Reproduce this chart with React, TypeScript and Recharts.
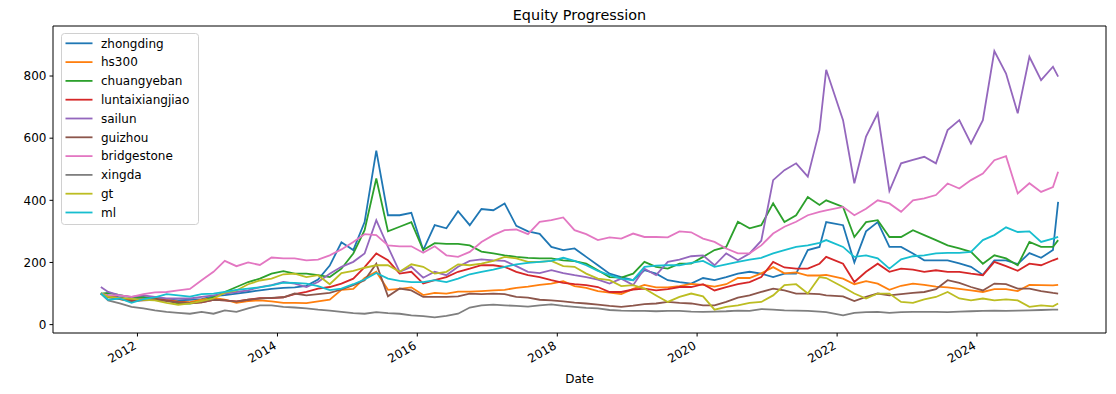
import { LineChart, Line, XAxis, YAxis, Legend, ReferenceLine } from "recharts";

// sample dates (roughly every two months, last point is the final trading day shown)
const dates = [
    "2011-06-24", "2011-08", "2011-10", "2011-12",
    "2012-02", "2012-04", "2012-06", "2012-08", "2012-10", "2012-12",
    "2013-02", "2013-04", "2013-06", "2013-08", "2013-10", "2013-12",
    "2014-02", "2014-04", "2014-06", "2014-08", "2014-10", "2014-12",
    "2015-02", "2015-04", "2015-06", "2015-08", "2015-10", "2015-12",
    "2016-02", "2016-04", "2016-06", "2016-08", "2016-10", "2016-12",
    "2017-02", "2017-04", "2017-06", "2017-08", "2017-10", "2017-12",
    "2018-02", "2018-04", "2018-06", "2018-08", "2018-10", "2018-12",
    "2019-02", "2019-04", "2019-06", "2019-08", "2019-10", "2019-12",
    "2020-02", "2020-04", "2020-06", "2020-08", "2020-10", "2020-12",
    "2021-02", "2021-04", "2021-06", "2021-08", "2021-10", "2021-11-05",
    "2022-02", "2022-04", "2022-06", "2022-08", "2022-10", "2022-12",
    "2023-02", "2023-04", "2023-06", "2023-08", "2023-10", "2023-12",
    "2024-02", "2024-04", "2024-06", "2024-08", "2024-10", "2024-12",
    "2025-02", "2025-02-28",
];

const zhongding = [
    100, 95, 88, 80,
    85, 88, 82, 78, 80, 82,
    92, 95, 100, 105, 110, 115,
    118, 120, 125, 145, 190, 265,
    240, 330, 560, 352, 352, 360,
    240, 320, 310, 365, 320, 372,
    368, 390, 318, 300, 292, 250,
    240, 245, 218, 191, 164, 153,
    143, 175, 164, 143, 137, 132,
    150, 143, 153, 164, 170, 164,
    153, 164, 164, 240, 250, 330,
    320, 200, 300, 330, 250, 250,
    229, 207, 207, 207, 197, 186,
    160, 207, 207, 195, 230, 215,
    240, 395,
];

const hs300 = [
    100, 88, 82, 76,
    83, 83, 80, 74, 72, 80,
    86, 80, 70, 76, 78, 75,
    70, 70, 69, 75, 80, 112,
    115, 150, 170, 112, 115, 120,
    95, 102, 100, 106, 106, 108,
    110, 112, 118, 122, 128, 132,
    140, 124, 118, 108, 103, 98,
    115, 128, 120, 120, 124, 131,
    128, 122, 130, 150, 150, 165,
    185, 165, 168, 158, 158, 160,
    148, 130, 140, 132, 112, 125,
    132, 128, 122, 120, 115, 110,
    105, 114, 114, 108, 128, 127,
    126, 128,
];

const chuangyeban = [
    100, 102, 95, 88,
    89, 84, 78, 68, 68, 73,
    89, 105, 121, 137, 148, 164,
    172, 164, 164, 159, 153, 180,
    229, 304, 470, 300, 315, 330,
    240, 262, 260, 260, 255, 235,
    229, 223, 218, 215, 213, 213,
    207, 204, 196, 175, 153, 151,
    164, 202, 186, 180, 196, 196,
    218, 240, 250, 331, 310, 320,
    390, 330, 352, 411, 385, 400,
    379, 282, 330, 336, 282, 282,
    304, 288, 272, 255, 245, 234,
    196, 223, 213, 191, 266, 250,
    250, 272,
];

const luntaixiangjiao = [
    100, 92, 85, 78,
    80, 82, 78, 72, 70, 72,
    80, 78, 75, 80, 85, 85,
    88, 98, 105, 116, 121, 132,
    148, 185, 229, 207, 164, 170,
    132, 143, 153, 170, 180, 191,
    191, 186, 170, 159, 153, 143,
    134, 130, 127, 121, 105, 105,
    113, 116, 110, 114, 121, 121,
    130, 110, 121, 130, 137, 153,
    202, 184, 180, 180, 196, 218,
    196, 137, 170, 196, 170, 180,
    177, 170, 175, 170, 170, 164,
    159, 202, 188, 173, 196, 191,
    207, 213,
];

const sailun = [
    121, 105, 94, 89,
    94, 89, 84, 84, 84, 89,
    94, 100, 105, 110, 121, 127,
    137, 132, 121, 137, 164, 186,
    202, 229, 336, 250, 170, 186,
    151, 170, 159, 186, 205, 210,
    207, 205, 188, 170, 166, 175,
    166, 159, 153, 145, 132, 148,
    127, 180, 159, 202, 209, 220,
    223, 191, 229, 207, 229, 270,
    465, 497, 519, 476, 626, 820,
    658, 455, 605, 680, 430, 519,
    530, 540, 519, 626, 658, 583,
    658, 880, 808, 680, 862, 787,
    830, 798,
];

const guizhou = [
    100, 90, 82, 75,
    78, 80, 76, 72, 70, 72,
    80, 78, 74, 80, 84, 86,
    88, 100, 94, 98, 102, 113,
    127, 143, 196, 91, 116, 110,
    89, 89, 89, 91, 100, 98,
    100, 98, 89, 87, 80, 78,
    75, 71, 68, 64, 60, 57,
    61, 66, 68, 73, 70, 68,
    62, 62, 73, 87, 94, 105,
    116, 110, 100, 100, 98, 94,
    91, 76, 89, 100, 94, 98,
    102, 105, 114, 143, 134, 121,
    110, 132, 130, 116, 116, 108,
    102, 100,
];

const bridgestone = [
    100, 94, 94, 89,
    98, 104, 105, 110, 115, 143,
    170, 205, 188, 200, 192, 216,
    213, 213, 207, 209, 223, 242,
    266, 291, 288, 255, 252, 252,
    231, 252, 223, 218, 234, 266,
    288, 304, 306, 291, 331, 336,
    345, 304, 291, 272, 281, 277,
    293, 282, 282, 281, 300, 297,
    277, 266, 245, 229, 229, 255,
    293, 315, 331, 352, 363, 368,
    379, 352, 373, 400, 390, 363,
    400, 406, 417, 454, 438, 465,
    486, 529, 542, 422, 455, 427,
    443, 492,
];

const xingda = [
    100, 78, 68, 57,
    52, 46, 41, 38, 35, 41,
    35, 46, 41, 52, 62, 62,
    57, 55, 52, 48, 45, 41,
    37, 35, 40, 37, 35, 30,
    27, 23, 28, 35, 55, 62,
    64, 62, 60, 58, 62, 65,
    60, 57, 54, 52, 47, 45,
    44, 44, 43, 44, 44, 42,
    41, 42, 43, 45, 44, 50,
    48, 46, 45, 44, 42, 40,
    30, 38, 40, 41, 38, 40,
    41, 41, 41, 40, 42, 43,
    44, 45, 44, 45, 46, 47,
    48, 48,
];

const gt = [
    100, 90, 85, 83,
    80, 78, 70, 64, 68, 76,
    84, 103, 110, 130, 142, 148,
    162, 164, 153, 159, 130, 166,
    173, 183, 191, 191, 170, 194,
    186, 164, 170, 194, 191, 196,
    205, 218, 213, 202, 202, 205,
    188, 186, 164, 148, 143, 124,
    127, 116, 94, 73, 89, 100,
    91, 48, 57, 62, 70, 73,
    94, 127, 130, 100, 153, 150,
    121, 100, 84, 100, 100, 73,
    70, 81, 89, 105, 84, 78,
    84, 78, 81, 78, 57, 62,
    59, 68,
];

const ml = [
    100, 80, 84, 70,
    82, 88, 98, 94, 90, 98,
    100, 105, 112, 116, 120, 126,
    135, 134, 132, 124, 111, 116,
    130, 145, 166, 148, 141, 137,
    137, 143, 137, 148, 162, 170,
    177, 186, 194, 199, 202, 205,
    215, 205, 191, 173, 159, 148,
    143, 186, 190, 191, 191, 199,
    205, 186, 194, 202, 209, 215,
    229, 240, 250, 255, 263, 272,
    250, 218, 223, 213, 180, 210,
    220, 223, 229, 231, 231, 234,
    272, 288, 313, 298, 300, 266,
    277, 282,
];

const yTicks = [0, 200, 400, 600, 800];
const xTickYears = [2012, 2014, 2016, 2018, 2020, 2022, 2024];

const series = [
    { key: "zhongding", color: "#1f77b4", values: zhongding },
    { key: "hs300", color: "#ff7f0e", values: hs300 },
    { key: "chuangyeban", color: "#2ca02c", values: chuangyeban },
    { key: "luntaixiangjiao", color: "#d62728", values: luntaixiangjiao },
    { key: "sailun", color: "#9467bd", values: sailun },
    { key: "guizhou", color: "#8c564b", values: guizhou },
    { key: "bridgestone", color: "#e377c2", values: bridgestone },
    { key: "xingda", color: "#7f7f7f", values: xingda },
    { key: "gt", color: "#bcbd22", values: gt },
    { key: "ml", color: "#17becf", values: ml },
];

const rows = dates.map((d, i) => {
    const row: Record<string, number> = { t: Date.parse(d) };
    series.forEach(s => { row[s.key] = s.values[i]; });
    return row;
});

// matplotlib-like 5% margins around the data span
const t0 = rows[0].t;
const t1 = rows[rows.length - 1].t;
const xDomain = [t0 - (t1 - t0) * 0.05, t1 + (t1 - t0) * 0.05];
const yDomain = [-27, 961];

const FONT = "DejaVu Sans";

const DateTick = ({ x, y, payload }: any) => (
    <g transform={`translate(${x},${y + 9.5})`}>
        <text x={0} y={0} textAnchor="end" transform="rotate(-30)" fontSize={12} fontFamily={FONT} fill="#000">
            {new Date(payload.value).getUTCFullYear()}
        </text>
    </g>
);

const LegendBox = ({ payload }: any) => {
    const items = [...(payload || [])].sort(
        (a: any, b: any) => series.findIndex(s => s.key === a.value) - series.findIndex(s => s.key === b.value)
    );
    return (
        <svg width={138} height={192} style={{ display: "block" }}>
            <rect x={0.5} y={0.5} width={137} height={191} rx={3} fill="#fff" fillOpacity={0.8} stroke="#d0d0d0" />
            {items.map((p: any, i: number) => {
                const cy = 10.3 + i * 18.8;
                return (
                    <g key={p.value}>
                        <line x1={4.5} x2={31.5} y1={cy} y2={cy} stroke={p.color} strokeWidth={1.8} />
                        <text x={40} y={cy + 4.3} fontSize={12} fontFamily={FONT} fill="#000">{p.value}</text>
                    </g>
                );
            })}
        </svg>
    );
};

export default function App() {
    return (
        <div style={{ position: "absolute", left: 0, top: 0, width: 1116, height: 394, background: "#fff" }}>
            <LineChart width={1116} height={394} data={rows} margin={{ top: 26, right: 10, bottom: 0, left: 0 }}>
                <XAxis
                    dataKey="t"
                    type="number"
                    domain={xDomain}
                    allowDataOverflow
                    ticks={xTickYears.map(y => Date.UTC(y, 0, 1))}
                    tick={<DateTick />}
                    tickSize={3.5}
                    height={61}
                    stroke="#000"
                    tickLine={{ stroke: "#000" }}
                    axisLine={{ stroke: "#000" }}
                />
                <YAxis
                    type="number"
                    domain={yDomain}
                    allowDataOverflow
                    ticks={yTicks}
                    width={53}
                    tickSize={3.5}
                    tickMargin={3}
                    stroke="#000"
                    tick={{ fill: "#000", fontSize: 12, fontFamily: FONT }}
                    tickLine={{ stroke: "#000" }}
                    axisLine={{ stroke: "#000" }}
                />
                <ReferenceLine y={yDomain[1]} stroke="#000" ifOverflow="visible" />
                <ReferenceLine x={xDomain[1]} stroke="#000" ifOverflow="visible" />
                {series.map(s => (
                    <Line
                        key={s.key}
                        type="linear"
                        dataKey={s.key}
                        name={s.key}
                        stroke={s.color}
                        strokeWidth={1.8}
                        dot={false}
                        activeDot={false}
                        isAnimationActive={false}
                    />
                ))}
                <Legend
                    layout="vertical"
                    align="center"
                    verticalAlign="middle"
                    content={<LegendBox />}
                    wrapperStyle={{ left: 60.7, top: 32.7, width: 138, height: 192 }}
                />
            </LineChart>
            <svg width={1116} height={394} style={{ position: "absolute", left: 0, top: 0, pointerEvents: "none" }}>
                <text x={579.5} y={20} textAnchor="middle" fontSize={14.4} fontFamily={FONT} fill="#000">Equity Progression</text>
                <text x={579.5} y={383} textAnchor="middle" fontSize={12} fontFamily={FONT} fill="#000">Date</text>
            </svg>
        </div>
    );
}
